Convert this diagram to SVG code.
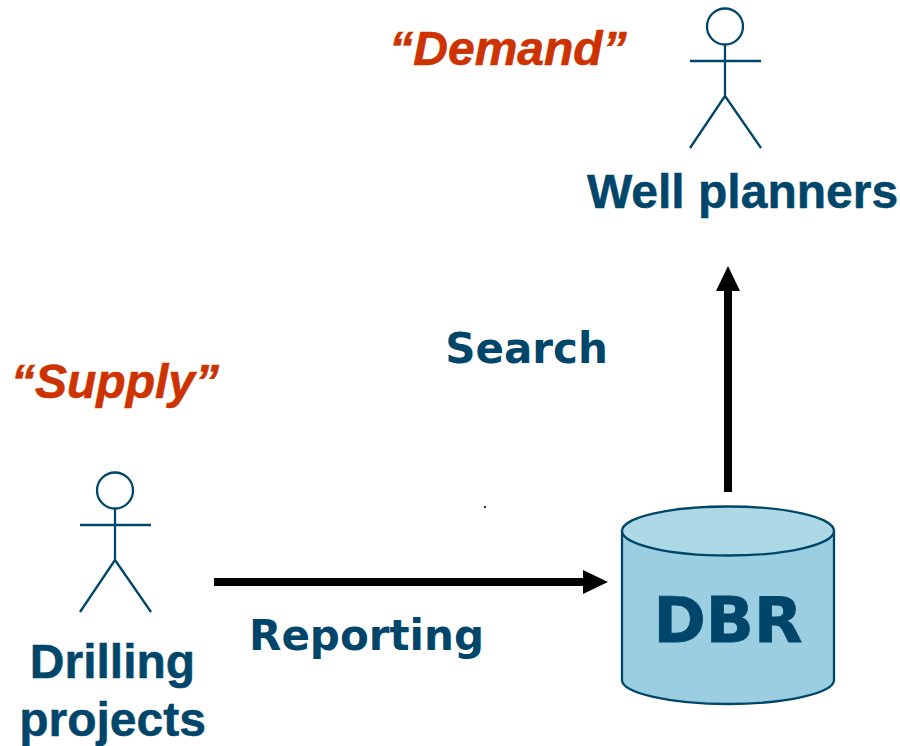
<svg xmlns="http://www.w3.org/2000/svg" width="900" height="746" viewBox="0 0 900 746">
<style>
.a{fill:none;stroke:#00466a;stroke-width:2.300}
.t{font-family:"Liberation Sans",Arial,sans-serif;font-weight:bold;fill:#00466a;font-size:48px;stroke:#00466a;stroke-width:.5}
.v{font-family:"DejaVu Sans",Verdana,sans-serif;font-weight:bold;fill:#00466a}
.q{font-family:"Liberation Sans",Arial,sans-serif;font-weight:bold;font-style:italic;fill:#cc3300;font-size:48px;stroke:#cc3300;stroke-width:.6}
.c{stroke:#000;stroke-width:8;fill:none}
</style>
<rect width="900" height="746" fill="#fff"/>
<rect x="484" y="506" width="2" height="2" fill="#333"/>
<g id="connectors">
<path class="c" d="M214 582H585"/><path d="M583 570L608 582L583 594Z" fill="#000"/>
<path class="c" d="M728 492V288"/><path d="M716 291L728 266L740 291Z" fill="#000"/>
</g>
<g id="well-planners">
<g class="a"><circle cx="725" cy="26.500" r="18"/><path d="M725 44.500V96M690 61H761M725 96L690 148M725 96L761 148"/></g>
<text class="t" x="742.500" y="208" text-anchor="middle">Well planners</text>
</g>
<g id="drilling-projects">
<g class="a"><circle cx="115" cy="490.500" r="18"/><path d="M115 508.500V560M80 525H151M115 560L80 612M115 560L151 612"/></g>
<text class="t" x="112.500" y="678" text-anchor="middle">Drilling</text>
<text class="t" x="112.500" y="736" text-anchor="middle">projects</text>
</g>
<g id="dbr">
<path d="M622 531V680C622 693 670 704 728 704S834 693 834 680V531Z" fill="#9acee0" stroke="#00466a" stroke-width="2.300"/>
<ellipse cx="728" cy="531" rx="106" ry="24.500" fill="#add8e6" stroke="#00466a" stroke-width="2.300"/>
<text class="v" x="728" y="642" text-anchor="middle" font-size="63" stroke="#00466a" stroke-width=".8">DBR</text>
</g>
<g id="labels">
<text class="q" x="508" y="65" text-anchor="middle">“Demand”</text>
<text class="q" x="115" y="398" text-anchor="middle">“Supply”</text>
<text class="v" x="526.500" y="363" text-anchor="middle" font-size="42">Search</text>
<text class="v" x="366.500" y="650" text-anchor="middle" font-size="42">Reporting</text>
</g>
</svg>
